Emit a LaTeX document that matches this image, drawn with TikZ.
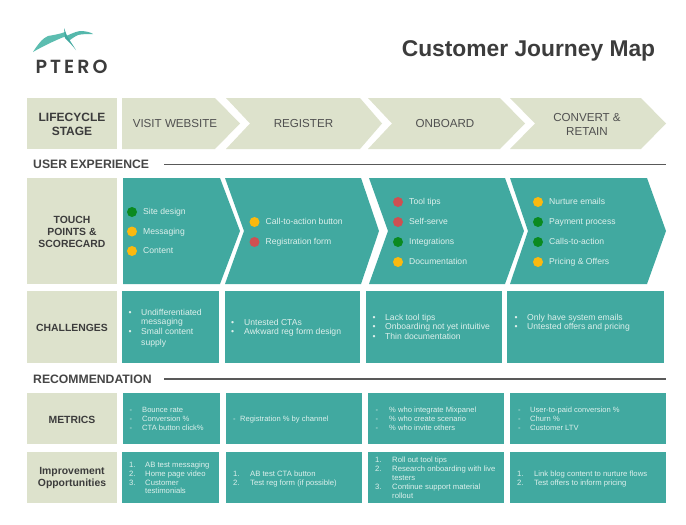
\documentclass[tikz,border=0pt]{standalone}
\usepackage{fontspec}
\setmainfont{Liberation Sans}
\newfontfamily\logofont[LetterSpace=16]{Poppins SemiBold}
\definecolor{beige}{HTML}{DDE2CC}
\definecolor{teal1}{HTML}{41A9A0}
\definecolor{ink}{HTML}{3C3C3C}
\definecolor{soft}{HTML}{DDF0EC}
\definecolor{dgreen}{HTML}{0A8A20}
\definecolor{dyellow}{HTML}{FBB90F}
\definecolor{dred}{HTML}{CE5052}
\definecolor{wingteal}{HTML}{5CBDB0}
\newcounter{autoid}
\tikzset{
  x=1pt,y=-1pt,
  beigefill/.style={fill=beige,draw=none},
  tealfill/.style={fill=teal1,draw=none},
  headtxt/.style={font=\bfseries\fontsize{10.4}{12.2}\selectfont,text=ink,align=center,inner sep=0pt},
  stagetxt/.style={font=\fontsize{11.6}{14}\selectfont,text=ink!90,align=center,inner sep=0pt},
  sectxt/.style={font=\bfseries\fontsize{12.2}{14}\selectfont,text=ink!95,anchor=west,inner sep=0pt},
  body/.style={text=soft,anchor=base west,inner sep=0pt},
  dot/.style={circle,minimum size=10pt,inner sep=0pt,draw=none},
  secline/.style={draw=ink!85,line width=1.5pt},
}
\newcommand{\bx}[4]{\fill[tealfill] (#1,#3) rectangle (#2,#4);}
% notched chevron: left, notch, topright, tip, top, bottom, style
\newcommand{\nchev}[7]{\fill[#7] (#1,#5) -- (#3,#5) -- (#4,{(#5+#6)/2}) -- (#3,#6) -- (#1,#6) -- (#2,{(#5+#6)/2}) -- cycle;}
\newcommand{\tl}[4]{\stepcounter{autoid}\node[body,font=\fontsize{#4}{#4}\selectfont] (t\theautoid) at (#1,#2+2.8) {#3};}
\newcommand{\itm}[6]{\tl{#1}{#3}{#4}{#6}\tl{#2}{#3}{#5}{#6}}
\newcommand{\dt}[4]{\stepcounter{autoid}\node[dot,fill=#3] (d\theautoid) at (#1,#2) {};\tl{#1+11}{#2}{#4}{8.6}}
\begin{document}
\begin{tikzpicture}
\useasboundingbox (0,0) rectangle (686,525);
\fill[white] (0,0) rectangle (686,525);
% logo
\fill[wingteal] (33,52) .. controls (38,44) and (43,38) .. (48,36) .. controls (54,35) and (60,34) .. (65,32) -- (67,36) .. controls (60,38) and (55,41) .. (50,43) .. controls (44,46) and (38,49) .. (33,52) -- cycle;
\fill[wingteal!75!teal1] (66,36) .. controls (69,35) and (74,32) .. (80,31) .. controls (85,31) and (90,32) .. (93,34) .. controls (87,34) and (82,34) .. (78,35) .. controls (74,37) and (71,39) .. (69,41) -- cycle;
\fill[teal1] (64,28) -- (67,36) -- (76,50) -- (70,43) -- (65,38) -- cycle;
\node[font=\logofont\fontsize{19}{19}\selectfont,text=ink,inner sep=0pt,anchor=center] (logo) at (71.5,67) {PTERO};
\node[font=\bfseries\fontsize{22.8}{26}\selectfont,text=ink,inner sep=0pt,anchor=center] (title) at (528.5,50.5) {Customer Journey Map};
% row 1
\fill[beigefill] (27,98) rectangle (117,149);
\node[headtxt,font=\bfseries\fontsize{12}{14}\selectfont] (lifecycle) at (72,124) {LIFECYCLE\\STAGE};
\fill[beigefill] (122,98) -- (215,98) -- (240,123.5) -- (215,149) -- (122,149) -- cycle;
\nchev{226}{250}{360}{382}{98}{149}{beigefill}
\nchev{368}{392}{500}{525}{98}{149}{beigefill}
\nchev{510}{535}{641}{666}{98}{149}{beigefill}
\node[stagetxt] (s1) at (175,124) {VISIT WEBSITE};
\node[stagetxt] (s2) at (303.5,124) {REGISTER};
\node[stagetxt] (s3) at (445,124) {ONBOARD};
\node[stagetxt] (s4) at (587,124) {CONVERT \&\\RETAIN};
% section 1
\node[sectxt] (ux) at (33,164.5) {USER EXPERIENCE};
\coordinate (uxa) at (164,164.5); \coordinate (uxb) at (666,164.5);
\draw[secline] (uxa) -- (uxb);
% row 2
\fill[beigefill] (27,178) rectangle (117,284);
\node[headtxt] (touch) at (72,232) {TOUCH\\POINTS \&\\SCORECARD};
\fill[tealfill] (123,178) -- (220,178) -- (240,231) -- (220,284) -- (123,284) -- cycle;
\nchev{225}{244}{361}{379}{178}{284}{tealfill}
\nchev{369}{388}{505}{524}{178}{284}{tealfill}
\nchev{510}{528}{647}{666}{178}{284}{tealfill}
\dt{132}{212}{dgreen}{Site design}
\dt{132}{231.5}{dyellow}{Messaging}
\dt{132}{251}{dyellow}{Content}
\dt{254.5}{222}{dyellow}{Call-to-action button}
\dt{254.5}{242}{dred}{Registration form}
\dt{398}{202}{dred}{Tool tips}
\dt{398}{222}{dred}{Self-serve}
\dt{398}{242}{dgreen}{Integrations}
\dt{398}{262}{dyellow}{Documentation}
\dt{538}{202}{dyellow}{Nurture emails}
\dt{538}{222}{dgreen}{Payment process}
\dt{538}{242}{dgreen}{Calls-to-action}
\dt{538}{262}{dyellow}{Pricing \& Offers}
% row 3
\fill[beigefill] (27,291) rectangle (117,363);
\node[headtxt] (chal) at (72,328) {CHALLENGES};
\bx{122}{219}{291}{363}\bx{225}{360}{291}{363}\bx{366}{502}{291}{363}\bx{507}{664}{291}{363}
\itm{128.5}{141}{313}{•}{Undifferentiated}{8.6}
\tl{141}{322}{messaging}{8.6}
\itm{128.5}{141}{332}{•}{Small content}{8.6}
\tl{141}{343}{supply}{8.6}
\itm{231}{244}{323}{•}{Untested CTAs}{8.6}
\itm{231}{244}{332}{•}{Awkward reg form design}{8.6}
\itm{372.5}{385}{318}{•}{Lack tool tips}{8.6}
\itm{372.5}{385}{327}{•}{Onboarding not yet intuitive}{8.6}
\itm{372.5}{385}{337}{•}{Thin documentation}{8.6}
\itm{514.5}{527}{318}{•}{Only have system emails}{8.6}
\itm{514.5}{527}{327}{•}{Untested offers and pricing}{8.6}
% section 2
\node[sectxt] (rec) at (33,379) {RECOMMENDATION};
\coordinate (reca) at (164,379); \coordinate (recb) at (666,379);
\draw[secline] (reca) -- (recb);
% row 4
\fill[beigefill] (27,393) rectangle (117,444);
\node[headtxt] (met) at (72,419.5) {METRICS};
\bx{123}{220}{393}{444}\bx{226}{362}{393}{444}\bx{368}{504}{393}{444}\bx{510}{666}{393}{444}
\itm{129.5}{142}{410}{-}{Bounce rate}{7.6}
\itm{129.5}{142}{419}{-}{Conversion \%}{7.6}
\itm{129.5}{142}{428}{-}{CTA button click\%}{7.6}
\itm{233}{240}{419}{-}{Registration \% by channel}{7.6}
\itm{375.5}{389}{410}{-}{\% who integrate Mixpanel}{7.6}
\itm{375.5}{389}{419}{-}{\% who create scenario}{7.6}
\itm{375.5}{389}{428}{-}{\% who invite others}{7.6}
\itm{518}{530}{410}{-}{User-to-paid conversion \%}{7.6}
\itm{518}{530}{419}{-}{Churn \%}{7.6}
\itm{518}{530}{428}{-}{Customer LTV}{7.6}
% row 5
\fill[beigefill] (27,452) rectangle (117,503);
\node[headtxt] (imp) at (72,478) {Improvement\\Opportunities};
\bx{122}{219}{452}{503}\bx{226}{362}{452}{503}\bx{368}{504}{452}{503}\bx{510}{666}{452}{503}
\itm{129}{145}{465}{1.}{AB test messaging}{7.7}
\itm{129}{145}{473.5}{2.}{Home page video}{7.7}
\itm{129}{145}{483}{3.}{Customer}{7.7}
\tl{145}{491}{testimonials}{7.7}
\itm{233}{250}{474}{1.}{AB test CTA button}{7.7}
\itm{233}{250}{483}{2.}{Test reg form (if possible)}{7.7}
\itm{375}{392}{460}{1.}{Roll out tool tips}{7.7}
\itm{375}{392}{469}{2.}{Research onboarding with live}{7.7}
\tl{392}{478}{testers}{7.7}
\itm{375}{392}{486.5}{3.}{Continue support material}{7.7}
\tl{392}{496}{rollout}{7.7}
\itm{517}{534}{474}{1.}{Link blog content to nurture flows}{7.7}
\itm{517}{534}{483}{2.}{Test offers to inform pricing}{7.7}
\end{tikzpicture}
\end{document}
